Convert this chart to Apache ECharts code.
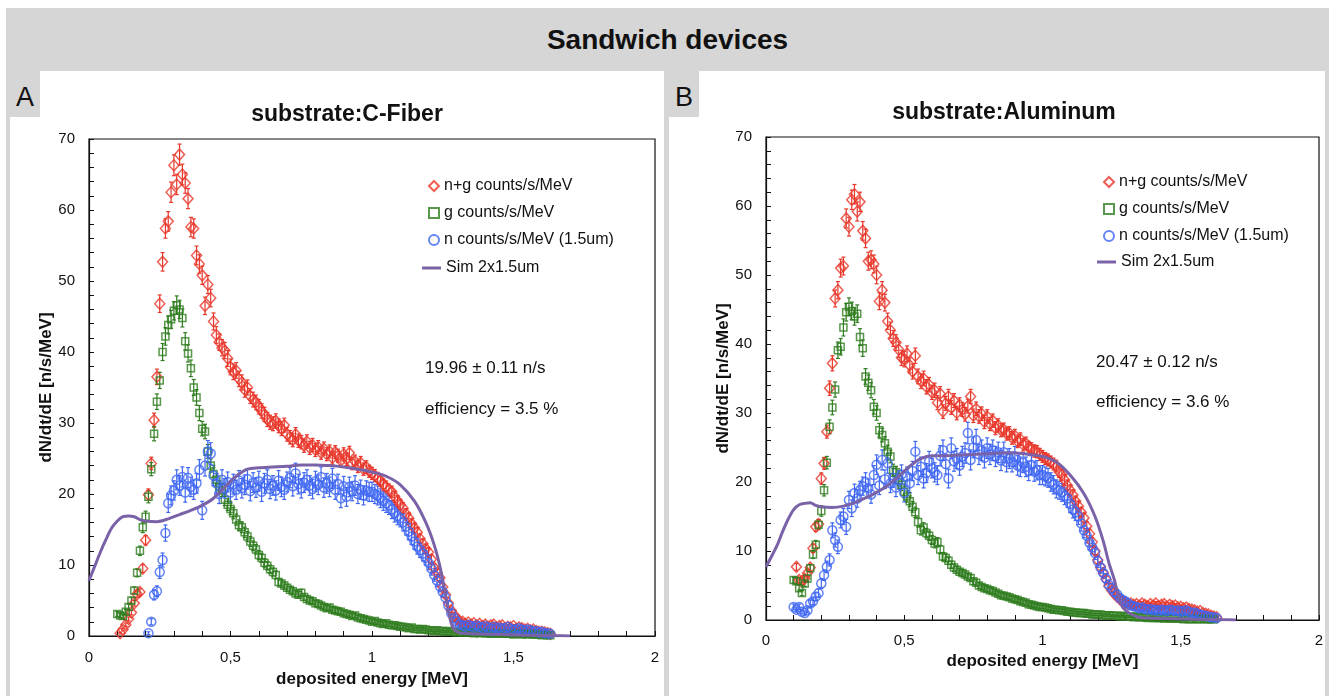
<!DOCTYPE html>
<html>
<head>
<meta charset="utf-8">
<title>Sandwich devices</title>
<script src="https://cdn.jsdelivr.net/npm/echarts@6/dist/echarts.min.js"></script>
<style>
  body { margin: 0; width: 1329px; height: 696px; background: #fff; position: relative; overflow: hidden;
         font-family: 'Liberation Sans', Arial, Helvetica, sans-serif; }
  #bg { position: absolute; left: 6px; top: 8px; right: 0; bottom: 0; background: #d6d6d6; }
  #head { position: absolute; left: 6px; right: 0; top: 8px; height: 63px; line-height: 63px; text-align: center;
          font-weight: bold; font-size: 28px; color: #111; }
  .panel { position: absolute; top: 71px; bottom: 0; background: #fff; }
  .tag { position: absolute; top: 71px; width: 30px; height: 46px; background: #d6d6d6; font-size: 27px;
         line-height: 52px; text-align: center; color: #111; }
  #chart { position: absolute; left: 0; top: 0; width: 1329px; height: 696px; }
</style>
</head>
<body>
<div id="bg"></div>
<div id="head">Sandwich devices</div>
<div class="panel" style="left:10px;width:654px"></div>
<div class="panel" style="left:669px;width:656px"></div>
<div class="tag" style="left:10px">A</div>
<div class="tag" style="left:669px">B</div>
<div id="chart"></div>
<script>
// bins are 0.01 MeV wide, each series starts at its own first bin
var binW = 0.01

// ---- panel A : substrate C-Fiber ----
var ngA_start = 0.11
var ngA = [0.4, 0.9, 1.6, 2.4, 3.3, 4.6, 5.9, 6.2, 9.5, 13.5, 19.9, 24.3, 30.4, 36.5, 46.8, 52.7, 57.4, 58.4, 62.5, 66.3,
  63.6, 67.8, 65.0, 63.8, 61.6, 57.6, 57.4, 53.6, 52.4, 50.8, 46.5, 49.5, 47.6, 44.3, 42.4, 41.4, 40.6, 40.2, 39.1, 37.9,
  37.2, 37.4, 36.2, 35.7, 34.7, 35.0, 33.8, 33.3, 32.9, 32.3, 31.7, 31.2, 30.5, 30.1, 29.9, 30.3, 29.6, 29.2, 29.7, 28.4,
  28.0, 27.6, 28.4, 27.5, 27.3, 26.8, 27.4, 26.5, 26.9, 26.2, 26.6, 25.8, 26.4, 25.6, 26.0, 25.1, 25.9, 25.4, 24.7, 25.6,
  24.9, 25.8, 24.3, 24.6, 23.9, 24.4, 23.5, 23.8, 23.2, 22.9, 22.6, 22.2, 21.9, 21.3, 21.0, 20.6, 20.3, 19.6, 19.0, 18.5,
  18.0, 17.2, 16.6, 15.8, 15.2, 14.6, 13.7, 13.0, 12.3, 11.8, 10.8, 9.6, 8.9, 8.2, 6.9, 5.8, 4.6, 3.6, 3.0, 2.4,
  2.1, 2.0, 1.7, 1.9, 1.6, 1.8, 1.5, 1.7, 1.4, 1.6, 1.3, 1.5, 1.6, 1.2, 1.4, 1.5, 1.1, 1.3, 1.2, 1.4,
  1.0, 1.2, 1.1, 0.9, 1.0, 0.8, 0.9, 0.7, 0.6, 0.6, 0.5, 0.4, 0.3]
var gA_start = 0.10
var gA = [3.1, 2.9, 2.8, 3.4, 4.1, 5.0, 6.4, 8.9, 12.0, 15.3, 16.8, 19.6, 23.5, 28.5, 33.0, 36.0, 40.0, 42.2, 43.8, 44.6,
  45.8, 46.6, 46.0, 44.8, 41.5, 39.8, 37.7, 35.0, 33.6, 31.4, 29.2, 28.8, 26.0, 24.0, 22.8, 22.0, 21.0, 20.5, 19.2, 18.5,
  17.9, 17.3, 16.4, 15.6, 15.3, 14.6, 14.0, 13.3, 12.7, 12.2, 11.4, 11.0, 10.3, 9.9, 9.4, 9.0, 8.6, 7.6, 7.4, 7.1,
  6.8, 6.5, 6.3, 6.0, 5.8, 6.1, 5.5, 5.2, 5.0, 4.9, 4.6, 4.5, 4.3, 4.1, 3.9, 4.0, 3.7, 3.6, 3.5, 3.4,
  3.2, 3.1, 3.0, 2.8, 2.9, 2.6, 2.5, 2.4, 2.3, 2.2, 2.0, 2.1, 1.9, 1.8, 1.7, 1.8, 1.6, 1.5, 1.5, 1.4,
  1.3, 1.3, 1.2, 1.1, 1.2, 1.0, 1.0, 0.9, 1.0, 0.9, 0.8, 0.8, 0.7, 0.8, 0.7, 0.7, 0.6, 0.7, 0.6, 0.6,
  0.5, 0.6, 0.5, 0.5, 0.6, 0.5, 0.4, 0.5, 0.4, 0.5, 0.4, 0.4, 0.3, 0.4, 0.4, 0.3, 0.4, 0.3, 0.3, 0.3,
  0.2, 0.3, 0.3, 0.2, 0.3, 0.2, 0.3, 0.2, 0.2, 0.2, 0.1, 0.2, 0.1, 0.1]
var nA_start = 0.21
var nA = [0.4, 2.0, 5.8, 6.3, 9.0, 10.7, 14.5, 18.7, 19.8, 20.5, 22.0, 21.2, 22.4, 20.2, 22.3, 21.0, 20.6, 21.5, 23.4, 17.7,
  24.0, 26.0, 25.7, 22.6, 21.5, 20.0, 22.0, 20.8, 21.7, 20.2, 21.4, 20.6, 21.9, 20.8, 21.3, 22.1, 20.4, 21.6, 20.9, 21.8,
  20.3, 21.5, 22.0, 20.7, 21.2, 20.5, 21.9, 21.0, 20.6, 21.7, 22.3, 21.1, 22.9, 21.4, 20.8, 21.6, 22.0, 21.2, 20.7, 21.8,
  21.3, 22.4, 20.9, 21.5, 21.0, 22.2, 20.6, 21.4, 19.4, 21.1, 19.6, 21.0, 20.4, 21.2, 20.0, 20.6, 19.8, 20.5, 20.3, 20.3,
  20.0, 19.8, 19.4, 19.0, 18.7, 18.4, 17.8, 17.3, 16.9, 16.6, 16.0, 15.4, 14.7, 14.0, 13.3, 12.6, 12.1, 11.6, 11.0, 10.3,
  9.5, 8.6, 7.8, 7.0, 6.2, 5.4, 4.3, 3.2, 2.5, 2.0, 1.6, 1.5, 1.3, 1.6, 1.4, 1.2, 1.5, 1.3, 1.1, 1.4,
  1.2, 1.0, 1.3, 1.1, 1.2, 0.9, 1.1, 1.3, 1.0, 0.8, 1.0, 1.1, 0.9, 0.7, 0.9, 0.8, 0.6, 0.7, 0.5, 0.6,
  0.4, 0.4, 0.3]
var simA_x = [0, 0.02, 0.04, 0.06, 0.08, 0.10, 0.12, 0.14, 0.16, 0.18, 0.20, 0.24, 0.28, 0.32, 0.36, 0.40, 0.44, 0.48, 0.52, 0.56,
  0.60, 0.65, 0.70, 0.75, 0.80, 0.85, 0.90, 0.95, 1.00, 1.05, 1.10, 1.15, 1.19, 1.22, 1.24, 1.26, 1.28, 1.30, 1.35, 1.45,
  1.55, 1.65, 1.70]
var simA_y = [7.8, 9.8, 11.8, 13.6, 15.2, 16.2, 16.8, 16.9, 16.8, 16.4, 16.2, 16.1, 16.5, 17.1, 17.7, 18.4, 19.4, 21.0, 22.5, 23.5,
  23.7, 23.8, 23.9, 24.1, 24.1, 24.0, 23.8, 23.5, 23.1, 22.5, 21.3, 19.0, 16.0, 12.8, 9.8, 5.8, 1.8, 0.6, 0.3, 0.2,
  0.1, 0.05, 0]

// ---- panel B : substrate Aluminum ----
var ngB_start = 0.11
var ngB = [7.7, 5.8, 5.6, 6.0, 6.8, 7.6, 10.4, 13.5, 13.9, 20.5, 22.7, 27.3, 33.6, 37.2, 46.6, 47.8, 51.0, 51.3, 58.2, 57.0,
  60.9, 61.7, 59.2, 60.6, 56.4, 55.3, 52.0, 52.2, 51.6, 50.0, 46.2, 47.8, 46.0, 43.3, 42.0, 40.8, 40.2, 39.2, 38.0, 37.8,
  38.6, 36.9, 36.0, 38.3, 35.3, 34.6, 35.0, 33.8, 34.1, 33.0, 33.3, 31.5, 32.8, 30.2, 31.4, 32.4, 30.8, 31.8, 30.0, 31.2,
  30.5, 29.8, 31.0, 32.4, 29.6, 30.6, 29.5, 29.9, 28.7, 29.5, 28.4, 28.9, 27.8, 28.2, 27.5, 27.6, 27.0, 27.1, 26.4, 26.7,
  25.9, 26.2, 25.4, 25.6, 25.0, 24.8, 24.5, 24.4, 24.0, 23.7, 23.4, 23.2, 22.9, 22.6, 22.3, 21.5, 21.0, 20.3, 19.5, 18.8,
  18.1, 17.2, 16.5, 15.6, 14.8, 13.6, 12.5, 11.3, 10.0, 8.7, 7.7, 6.8, 5.9, 4.9, 4.3, 3.8, 3.4, 3.0, 2.7, 2.5,
  2.3, 2.4, 2.2, 2.3, 2.1, 2.4, 2.2, 2.0, 2.3, 2.1, 2.4, 2.0, 2.2, 2.3, 1.9, 2.2, 2.0, 2.1, 1.8, 1.9,
  1.7, 1.8, 1.6, 1.5, 1.4, 1.2, 1.3, 1.0, 0.9, 0.8, 0.6, 0.5, 0.4]
var gB_start = 0.10
var gB = [5.8, 5.6, 4.6, 3.9, 5.3, 6.0, 7.5, 9.5, 10.9, 13.8, 15.8, 18.8, 22.8, 28.0, 30.8, 33.4, 39.1, 39.6, 42.4, 44.6,
  45.4, 44.8, 44.0, 44.4, 41.0, 39.4, 35.3, 34.4, 33.3, 30.9, 30.0, 27.5, 26.8, 25.6, 24.4, 23.7, 21.7, 21.4, 20.3, 19.6,
  18.6, 17.9, 17.2, 16.4, 15.6, 14.2, 13.0, 13.4, 12.6, 12.2, 11.6, 11.1, 11.3, 10.2, 9.2, 9.0, 8.6, 8.0, 7.6, 7.3,
  7.0, 6.8, 6.6, 6.3, 6.1, 5.6, 5.4, 5.0, 4.8, 4.6, 4.5, 4.3, 4.2, 4.0, 3.8, 3.6, 3.5, 3.4, 3.3, 3.1,
  3.0, 2.9, 2.7, 2.6, 2.5, 2.3, 2.2, 2.1, 2.0, 1.9, 1.9, 1.8, 1.7, 1.6, 1.5, 1.5, 1.4, 1.4, 1.3, 1.2,
  1.2, 1.1, 1.1, 1.0, 1.0, 1.0, 0.9, 0.9, 0.8, 0.8, 0.8, 0.8, 0.7, 0.7, 0.7, 0.6, 0.6, 0.6, 0.5, 0.6,
  0.5, 0.5, 0.5, 0.4, 0.5, 0.4, 0.4, 0.4, 0.3, 0.4, 0.3, 0.3, 0.3, 0.3, 0.2, 0.3, 0.2, 0.2, 0.2, 0.2,
  0.2, 0.1, 0.2, 0.1, 0.1, 0.2, 0.1, 0.1, 0.2, 0.1, 0.1, 0.1, 0.1]
var nB_start = 0.10
var nB = [1.9, 1.5, 1.9, 1.2, 1.0, 1.4, 2.4, 2.7, 3.4, 3.9, 5.3, 6.5, 7.7, 8.7, 13.0, 11.6, 10.6, 14.5, 15.0, 13.5,
  17.4, 16.2, 18.4, 17.6, 18.8, 19.4, 20.0, 19.1, 18.2, 21.0, 22.5, 19.5, 23.2, 20.4, 22.7, 19.8, 20.6, 19.2, 20.3, 21.1,
  18.4, 20.8, 19.8, 21.6, 24.4, 21.0, 22.2, 20.5, 21.3, 23.0, 22.0, 21.4, 21.0, 23.8, 24.6, 22.6, 20.5, 24.9, 23.0, 23.4,
  22.4, 23.7, 24.2, 27.1, 23.2, 25.0, 26.1, 24.0, 24.6, 23.5, 24.9, 24.0, 24.6, 23.7, 24.3, 23.1, 24.3, 22.9, 23.4, 22.9,
  23.7, 22.4, 22.2, 22.8, 22.2, 21.6, 22.5, 21.5, 21.7, 21.0, 21.0, 20.8, 20.6, 20.0, 19.6, 19.0, 18.8, 18.5, 18.0, 17.6,
  16.8, 16.0, 15.6, 15.0, 14.0, 13.0, 12.2, 11.2, 10.5, 9.7, 8.5, 7.6, 6.8, 6.0, 5.1, 4.6, 4.1, 3.7, 3.2, 2.9,
  2.7, 2.4, 2.1, 2.0, 1.9, 1.7, 1.8, 1.6, 1.5, 1.6, 1.4, 1.5, 1.3, 1.5, 1.4, 1.3, 1.5, 1.4, 1.3, 1.4,
  1.2, 1.3, 1.4, 1.2, 1.0, 1.1, 0.9, 0.8, 0.7, 0.6, 0.5, 0.4, 0.4, 0.3]
var simB_x = [0, 0.02, 0.04, 0.06, 0.08, 0.10, 0.12, 0.14, 0.16, 0.18, 0.20, 0.24, 0.28, 0.32, 0.36, 0.40, 0.44, 0.48, 0.52, 0.56,
  0.60, 0.65, 0.70, 0.75, 0.80, 0.85, 0.90, 0.95, 1.00, 1.05, 1.10, 1.15, 1.19, 1.22, 1.24, 1.26, 1.28, 1.30, 1.35, 1.45,
  1.55, 1.65, 1.70]
var simB_y = [7.7, 9.2, 10.8, 12.8, 14.6, 16.0, 16.7, 16.9, 17.0, 16.6, 16.4, 16.3, 16.5, 17.0, 17.7, 18.5, 19.5, 20.8, 22.3, 23.4,
  23.8, 23.8, 23.9, 24.0, 24.1, 24.2, 24.2, 24.0, 23.7, 22.9, 21.0, 18.3, 15.0, 11.4, 8.3, 5.8, 2.6, 1.4, 0.4, 0.2,
  0.1, 0.05, 0]

// relative size of the statistical error bars (times sqrt of the rate)
var errNG = 0.18, errG = 0.19, errN = 0.3

var names = ['n+g counts/s/MeV', 'g counts/s/MeV', 'n counts/s/MeV (1.5um)', 'Sim 2x1.5um']
var colors = ['#e8372a', '#2f7d1f', '#3f67f2', '#7a62a8']
var font = "'Liberation Sans', Arial, Helvetica, sans-serif"

function toPoints(start, arr) {
  return arr.map(function (v, i) { return [+(start + i * binW).toFixed(3), v] })
}
function toErr(start, arr, k) {
  return arr.map(function (v, i) {
    var e = k * Math.sqrt(v)
    return [+(start + i * binW).toFixed(3), v - e, v + e]
  })
}
function errSeries(idx, data, color) {
  return {
    type: 'custom', xAxisIndex: idx, yAxisIndex: idx, clip: true, silent: true, z: 2,
    encode: { x: 0, y: [1, 2] },
    data: data,
    renderItem: function (params, api) {
      var top = api.coord([api.value(0), api.value(2)])
      var bot = api.coord([api.value(0), api.value(1)])
      var st = { stroke: color, lineWidth: 1.2 }
      return {
        type: 'group', children: [
          { type: 'line', shape: { x1: top[0], y1: top[1], x2: bot[0], y2: bot[1] }, style: st },
          { type: 'line', shape: { x1: top[0] - 2, y1: top[1], x2: top[0] + 2, y2: top[1] }, style: st },
          { type: 'line', shape: { x1: bot[0] - 2, y1: bot[1], x2: bot[0] + 2, y2: bot[1] }, style: st }
        ]
      }
    }
  }
}
function pointSeries(idx, name, symbol, size, data, color) {
  return {
    name: name, type: 'scatter', xAxisIndex: idx, yAxisIndex: idx, z: 3,
    symbol: symbol, symbolSize: size, data: data,
    itemStyle: { color: 'rgba(255,255,255,0)', borderColor: color, borderWidth: 1.5 }
  }
}
function simSeries(idx, xs, ys) {
  return {
    name: names[3], type: 'line', xAxisIndex: idx, yAxisIndex: idx, z: 4,
    symbol: 'none', smooth: 0.3,
    data: xs.map(function (x, i) { return [x, ys[i]] }),
    lineStyle: { color: colors[3], width: 3 }, itemStyle: { color: colors[3] }
  }
}
function xAxis(idx, gap, margin) {
  return {
    gridIndex: idx, type: 'value', min: 0, max: 2, interval: 0.5,
    name: 'deposited energy [MeV]', nameLocation: 'middle', nameGap: gap,
    nameTextStyle: { fontFamily: font, fontWeight: 'bold', fontSize: 17, color: '#111' },
    axisLine: { lineStyle: { color: '#111', width: 1.2 } },
    axisTick: { inside: true, length: 5, lineStyle: { color: '#111' } },
    minorTick: { show: true, splitNumber: 5, length: 5, lineStyle: { color: '#111' } },
    splitLine: { show: false },
    axisLabel: {
      fontFamily: font, fontSize: 15, color: '#111', margin: margin,
      formatter: function (v) { return String(v).replace('.', ',') }
    }
  }
}
function yAxis(idx) {
  return {
    gridIndex: idx, type: 'value', min: 0, max: 70, interval: 10,
    name: 'dN/dt/dE [n/s/MeV]', nameLocation: 'middle', nameGap: 34, nameRotate: 90,
    nameTextStyle: { fontFamily: font, fontWeight: 'bold', fontSize: 17, color: '#111' },
    axisLine: { lineStyle: { color: '#111', width: 1.2 } },
    axisTick: { inside: true, length: 5, lineStyle: { color: '#111' } },
    minorTick: { show: true, splitNumber: 5, length: 5, lineStyle: { color: '#111' } },
    splitLine: { show: false },
    axisLabel: { fontFamily: font, fontSize: 15, color: '#111', margin: 14 }
  }
}
function pointLegend(left, top) {
  return {
    left: left, top: top, orient: 'vertical', itemWidth: 10, itemHeight: 10, itemGap: 11,
    data: names.slice(0, 3), selectedMode: false,
    textStyle: { fontFamily: font, fontSize: 16, color: '#111' }
  }
}
function lineLegend(left, top) {
  return {
    left: left, top: top, itemWidth: 19, itemHeight: 3, icon: 'rect',
    data: [names[3]], selectedMode: false,
    textStyle: { fontFamily: font, fontSize: 16, color: '#111' }
  }
}
function label(x, y, text, size, bold, align) {
  return {
    type: 'text', x: x, y: y,
    style: { text: text, fontFamily: font, fontSize: size, fontWeight: bold ? 'bold' : 'normal',
      fill: '#111', align: align || 'left', verticalAlign: 'middle' }
  }
}

var myChart = echarts.init(document.getElementById('chart'), null, { renderer: 'canvas' })
var option = {
  animation: false,
  backgroundColor: 'transparent',
  grid: [
    { left: 89, top: 139, width: 566, height: 497, show: true, borderColor: '#111', borderWidth: 1.2, backgroundColor: 'transparent' },
    { left: 766, top: 137, width: 553, height: 483, show: true, borderColor: '#111', borderWidth: 1.2, backgroundColor: 'transparent' }
  ],
  xAxis: [xAxis(0, 35, 14), xAxis(1, 33, 13)],
  yAxis: [yAxis(0), yAxis(1)],
  legend: [pointLegend(423, 173), lineLegend(417, 255), pointLegend(1098, 169), lineLegend(1092, 249)],
  graphic: [
    label(347, 115, 'substrate:C-Fiber', 23, true, 'center'),
    label(1004, 113, 'substrate:Aluminum', 23, true, 'center'),
    label(425, 368, '19.96 ± 0.11 n/s', 17),
    label(425, 409, 'efficiency = 3.5 %', 17),
    label(1096, 362, '20.47 ± 0.12 n/s', 17),
    label(1096, 402, 'efficiency = 3.6 %', 17)
  ],
  series: [
    errSeries(0, toErr(ngA_start, ngA, errNG), colors[0]),
    errSeries(0, toErr(gA_start, gA, errG), colors[1]),
    errSeries(0, toErr(nA_start, nA, errN), colors[2]),
    pointSeries(0, names[0], 'diamond', [10, 11], toPoints(ngA_start, ngA), colors[0]),
    pointSeries(0, names[1], 'rect', 7, toPoints(gA_start, gA), colors[1]),
    pointSeries(0, names[2], 'circle', 9, toPoints(nA_start, nA), colors[2]),
    simSeries(0, simA_x, simA_y),

    errSeries(1, toErr(ngB_start, ngB, errNG), colors[0]),
    errSeries(1, toErr(gB_start, gB, errG), colors[1]),
    errSeries(1, toErr(nB_start, nB, errN), colors[2]),
    pointSeries(1, names[0], 'diamond', [10, 11], toPoints(ngB_start, ngB), colors[0]),
    pointSeries(1, names[1], 'rect', 7, toPoints(gB_start, gB), colors[1]),
    pointSeries(1, names[2], 'circle', 9, toPoints(nB_start, nB), colors[2]),
    simSeries(1, simB_x, simB_y)
  ]
}
myChart.setOption(option, true)
</script>
</body>
</html>
